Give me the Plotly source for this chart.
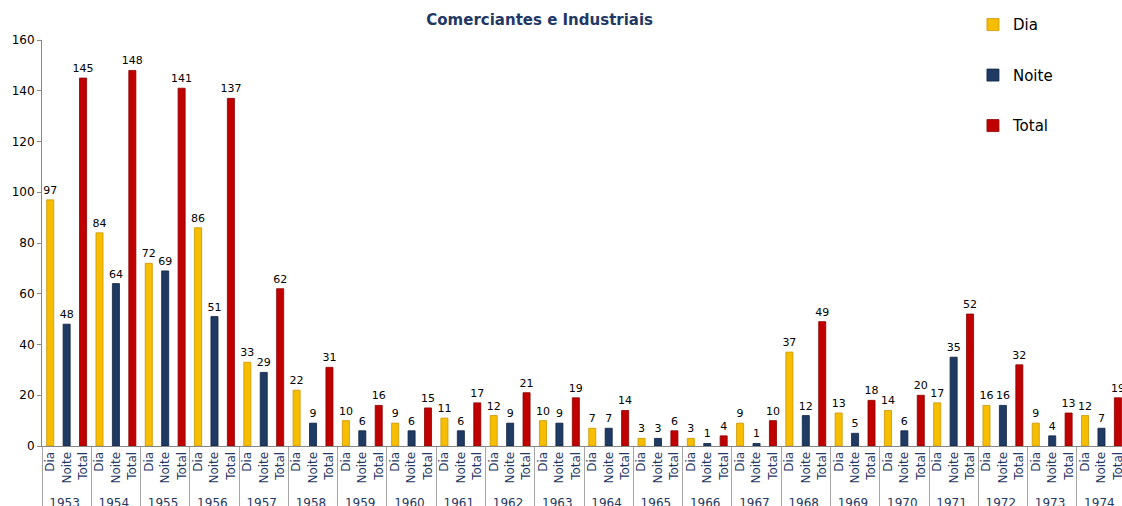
import plotly.graph_objects as go

years = [str(y) for y in range(1953, 1975)]
dia = [97, 84, 72, 86, 33, 22, 10, 9, 11, 12, 10, 7, 3, 3, 9, 37, 13, 14, 17, 16, 9, 12]
noite = [48, 64, 69, 51, 29, 9, 6, 6, 6, 9, 9, 7, 3, 1, 1, 12, 5, 6, 35, 16, 4, 7]
total = [145, 148, 141, 137, 62, 31, 16, 15, 17, 21, 19, 14, 6, 4, 10, 49, 18, 20, 52, 32, 13, 19]

series = [
    ("Dia", dia, "#F7BE00", "#C99600"),
    ("Noite", noite, "#1F3B64", "#0F2240"),
    ("Total", total, "#C00000", "#8A0000"),
]

# full category order so multicategory axis is ordered year, Dia, Noite, Total
order_x0 = []
order_x1 = []
for y in years:
    for s in ["Dia", "Noite", "Total"]:
        order_x0.append(y)
        order_x1.append(s)

fig = go.Figure()
fig.add_trace(go.Bar(x=[order_x0, order_x1], y=[None] * len(order_x0),
                     showlegend=False, hoverinfo="skip"))

for i, (name, vals, col, edge) in enumerate(series):
    fig.add_trace(go.Bar(
        name=name,
        x=[years, [name] * len(years)],
        y=vals,
        marker=dict(color=col, line=dict(color=edge, width=0.8)),
        width=0.43,
        text=vals,
        textposition="outside",
        textfont=dict(family="DejaVu Sans", size=11, color="#000000"),
        constraintext="none",
        cliponaxis=True,
        legendgroup=name,
    ))

fig.update_layout(
    width=1122, height=506,
    margin=dict(l=42, r=0, t=40, b=60, autoexpand=False),
    paper_bgcolor="white", plot_bgcolor="white",
    barmode="overlay",
    title=dict(text="<b>Comerciantes e Industriais</b>", x=0.481, xanchor="center",
               y=0.96, yanchor="middle",
               font=dict(family="DejaVu Sans", size=15, color="#1F3864")),
    legend=dict(x=0.862, xanchor="left", y=1.078, yanchor="top",
                tracegroupgap=28, bgcolor="rgba(0,0,0,0)",
                font=dict(family="DejaVu Sans", size=15, color="#000000")),
    showlegend=True,
)
fig.update_xaxes(
    type="multicategory",
    range=[-0.5, 65.25],
    automargin=False,
    tickangle=-90,
    tickfont=dict(family="DejaVu Sans", size=12, color="#1F3864"),
    showline=True, linecolor="#868686", linewidth=1,
    showgrid=False, ticks="",
    showdividers=True, dividercolor="#A6A6A6", dividerwidth=1,
)
fig.update_yaxes(
    range=[0, 160], dtick=20,
    automargin=False,
    showline=True, linecolor="#868686", linewidth=1,
    ticks="outside", ticklen=4, tickcolor="#868686",
    showgrid=False, zeroline=False,
    tickfont=dict(family="DejaVu Sans", size=12, color="#000000"),
)

fig.write_html(
    "out.html",
    config={"displayModeBar": False},
    post_script="document.body.style.margin='0';document.body.style.overflow='hidden';",
)
